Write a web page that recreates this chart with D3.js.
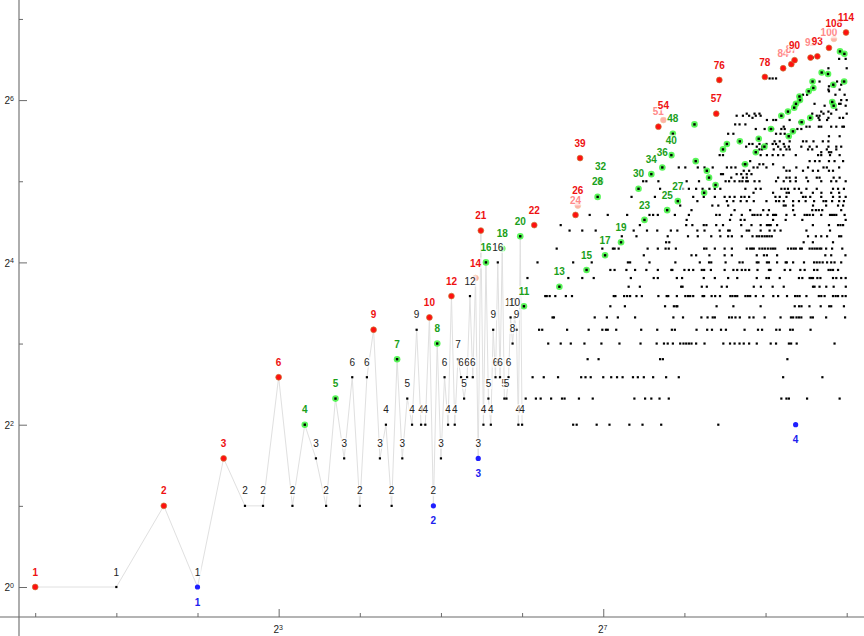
<!DOCTYPE html>
<html><head><meta charset="utf-8">
<script src="https://cdn.jsdelivr.net/npm/d3@7"></script>
<style>body{margin:0;background:#fff}svg{display:block}</style>
</head><body><svg id="chart" width="864" height="636"></svg>
<script>
// a(n) for n = 1..64 (joined by the gray line, every point labelled)
const headValues = [1,1,2,1,3,2,2,6,2,4,3,2,5,3,6,2,6,9,3,4,2,7,3,5,4,9,4,4,10,2,8,3,6,4,12,4,7,6,5,6,12,6,14,3,21,4,16,5,4,9,6,16,6,18,5,5,6,10,8,10,9,4,20,4];

// record values (red)
const recordN = [1,3,5,8,18,29,35,43,45,71,101,103,105,205,214,336,345,509,595,638,656,752,797,880,918,1018];
const recordV = [1,2,3,6,9,10,12,14,21,22,24,26,39,51,54,57,76,78,84,87,90,92,93,100,108,114];

// highlighted (green) points with a label
const greenN = [10,13,22,31,47,54,63,65,88,111,122,125,130,149,173,182,193,212,221,229,232,242];
const greenV = [4,5,7,8,16,18,20,11,13,15,28,32,17,19,30,23,34,36,25,40,48,27];
// highlighted (green) points without a label
const greenPlainN = [279,282,303,310,316,334,356,368,411,430,471,483,507,536,586,620,624,647,654,664,684,687,697,740,750,765,770,827,873,905,913,916,967,1002,1004];
const greenPlainV = [52,38,29,35,33,31,42,44,45,37,41,46,43,50,56,58,47,49,60,62,66,64,53,69,55,75,71,81,80,63,73,61,97,75,95];

// low values (blue)
const lowN = [4,30,44,662];
const lowV = [1,2,3,4];

// remaining points for n > 64, grouped by value
const cloudValues = [4,5,6,7,8,9,10,11,12,13,14,15,16,17,18,19,20,21,22,23,24,25,26,27,28,29,30,32,33,34,35,36,37,38,40,41,42,43,44,45,47,48,50,51,52,53,54,55,56,57,58,59,61,62,64,67,69,70,72,73,75,77,84,91,92];
const cloudN = [
 [99,102,121,135,160,179,210,342],
 [66,72,75,82,90,92,104,117,167,183,193,207,224,586,612,625,730,964],
 [70,77,87,106,110,115,128,137,144,151,165,172,181,196,219,244,595,832],
 [112,123,208,213,617],
 [80,89,97,109,126,147,176,202,215,222,232,247,254,260,266,272,283,304,357,378,393,410,425,445,475,535,560,625,637,668,923],
 [74,76,94,113,127,131,133,143,177,203,230,236,284,311,324,350,365,428,480,497,561,578,632,646,752],
 [83,84,119,132,145,168,233,253,296,312,326,332,375,384,396,411,446,462,508,582,636,648,667,681,695,753,767,859,1010],
 [136,154,217,234,239,241,337,389,491,657,682,696,745,820,882,897,1000],
 [78,79,81,85,93,98,140,142,153,157,161,170,178,205,220,223,240,258,264,269,276,299,303,323,333,347,379,386,395,402,431,440,449,471,502,547,570,615,659,672,685,726,807,824,848,911,932,951,987,1015],
 [159,175,249,252,297,310,352,368,463,492,544,598,768,778,812,860,916,1016],
 [67,95,107,118,162,197,204,240,251,302,332,372,402,475,516,527,578,681,701,746,757,768,797,818,911,937,977,1015],
 [136,141,156,168,185,204,229,231,256,266,276,297,303,321,361,389,402,418,431,445,478,527,534,603,632,689,715,775,797,877,893,911,951],
 [73,99,116,158,161,190,237,292,316,322,364,410,421,475,482,518,527,565,608,614,648,711,775,793,812,834,866,897,923,977],
 [181,272,283,317,361,384,475,505,518,565,853,897,1013],
 [86,127,139,141,146,187,204,218,224,238,303,309,332,361,384,436,449,456,463,486,498,509,522,535,546,556,620,637,651,663,688,698,746,763,779,795,812,824,859,904,986],
 [219,225,709,767,911],
 [150,170,222,264,287,322,348,372,384,418,458,475,485,497,508,518,529,540,736,787,824,866,960,977],
 [96,107,120,166,186,203,228,241,286,304,346,372,377,436,445,491,530,553,582,726,888],
 [89,175,260,274,302,309,336,356,416,454,491,518,527,535,565,767,880,951,971,993],
 [261,378,414,428,546,608,701,1015],
 [114,133,157,190,196,204,236,266,336,346,382,418,458,466,478,491,521,546,553,560,612,656,715,730,746,768,824,888,904,920,937,1006],
 [272,393,449,502,527,648,763,787,807,831,977],
 [247,325,342,372,598,608,648,768,859,951,993],
 [286,368,389,414,436,463,516,560,575,598,648,681,721,775,840,859,904,960,1000],
 [163,199,276,302,332,361,377,393,416,428,445,557,578,612,705,721,750,824,911,964,1015],
 [462,546,613,625,695,767,825,897,960],
 [208,253,266,283,299,317,332,348,431,471,491,586,603,620,656,681,726,793,911,951,1000],
 [180,185,205,261,290,364,375,393,410,420,434,440,466,486,560,598,632,663,736,824,897,937,1015],
 [382,422,436,570,612,629,663,726,793,812,916,964],
 [350,356,400,416,436,454],
 [425,445,612,629,705,767,802,880,911],
 [244,258,287,304,326,368,382,396,462,478,516,598,666,736,840,864,960],
 [422,436,486,502,546],
 [449,746,781,812,880,923,993],
 [346,356,491,518,544,570,596,663,802,824,888,964],
 [824,880,897],
 [486,497,549,582,612,629,736,763,864,937],
 [434,475,497,570,603,625,695,746,793,876,937,977],
 [445,458,486,516,544,560,598],
 [553,578,629,705,726,771,835,876],
 [880,964],
 [372,389,560,582,603],
 [471,508,546,586,603,672,695],
 [598,726,746,807,824,897,937,987,1000],
 [395,410,431],
 [685],
 [518,547,560,629,812,866],
 [458,805,876,964,993],
 [400,422,445,471,491,793,812],
 [436,466,486,763,840,897,1024],
 [824,876],
 [937],
 [848,1015],
 [778,960,972],
 [977,1024],
 [705,730,930,1006],
 [880],
 [876,964],
 [880,920],
 [977],
 [812,943,984],
 [530,544,560],
 [876,1024],
 [960,1015],
 [767]
];

// axis ticks
const xMajorTicks = [8,128];
const xMinorTicks = [1,2,4,16,32,64,256,512,1024];
const yMajorTicks = [1,4,16,64];
const yMinorTicks = [2,8,32,128];

const svg = d3.select("#chart");
const FONT = "'Liberation Sans', Arial, Helvetica, sans-serif";
const x = d3.scaleLog().base(2).domain([1,1024]).range([35.2,846.7]);
const y = d3.scaleLog().base(2).domain([1,64]).range([587,100.1]);
const AX_X = 19, AX_Y = 617;

// axes lines
svg.append("line").attr("x1",0).attr("x2",864).attr("y1",AX_Y).attr("y2",AX_Y).attr("stroke","#6b6b6b").attr("stroke-width",1.1);
svg.append("line").attr("x1",AX_X).attr("x2",AX_X).attr("y1",0).attr("y2",636).attr("stroke","#6b6b6b").attr("stroke-width",1.1);

function supLabels(sel){
  sel.selectAll(".tick text").each(function(d){
    const t = d3.select(this);
    t.text("2").attr("font-family",FONT).attr("font-size","10px").attr("fill","#222");
    t.append("tspan").attr("dy","-0.5em").attr("font-size","7px").text(Math.round(Math.log2(d)));
  });
}
function styleAxis(g){
  g.select(".domain").remove();
  g.selectAll(".tick line").attr("stroke","#6b6b6b").attr("stroke-width",1);
}
const gxMin = svg.append("g").attr("transform",`translate(0,${AX_Y})`)
  .call(d3.axisBottom(x).tickValues(xMinorTicks).tickSize(-4).tickFormat(""));
styleAxis(gxMin);
const gxMaj = svg.append("g").attr("transform",`translate(0,${AX_Y})`)
  .call(d3.axisBottom(x).tickValues(xMajorTicks).tickSize(-8).tickPadding(9));
styleAxis(gxMaj); supLabels(gxMaj);
gxMaj.selectAll(".tick text").attr("dx","-1px");

const gyMin = svg.append("g").attr("transform",`translate(${AX_X},0)`)
  .call(d3.axisLeft(y).tickValues(yMinorTicks).tickSize(-4).tickFormat(""));
styleAxis(gyMin);
const gyMaj = svg.append("g").attr("transform",`translate(${AX_X},0)`)
  .call(d3.axisLeft(y).tickValues(yMajorTicks).tickSize(-8).tickPadding(5));
styleAxis(gyMaj); supLabels(gyMaj);
gyMaj.selectAll(".tick text").attr("dy","0.38em");

// build point list
const key = (n,v)=> n+":"+v;
const recSet = new Set(recordN.map((n,i)=>key(n,recordV[i])));
const greenSet = new Set(greenN.map((n,i)=>key(n,greenV[i])));
const greenPlainSet = new Set(greenPlainN.map((n,i)=>key(n,greenPlainV[i])));
const lowSet = new Set(lowN.map((n,i)=>key(n,lowV[i])));

const head = headValues.map((v,i)=>({n:i+1,v}));
const cloud = [];
cloudValues.forEach((v,j)=>cloudN[j].forEach(n=>cloud.push({n,v})));
const black = head.concat(cloud).filter(p=>{const k=key(p.n,p.v);return !recSet.has(k)&&!greenSet.has(k)&&!lowSet.has(k)&&!greenPlainSet.has(k);});
const reds = recordN.map((n,i)=>({n,v:recordV[i]}));
const greens = greenN.map((n,i)=>({n,v:greenV[i]})).concat(greenPlainN.map((n,i)=>({n,v:greenPlainV[i]})));
const lows = lowN.map((n,i)=>({n,v:lowV[i]}));

// gray line through first 64 points
svg.append("path").datum(head)
  .attr("d", d3.line().x(d=>x(d.n)).y(d=>y(d.v)))
  .attr("fill","none").attr("stroke","#e0e0e0").attr("stroke-width",1);

// black points
svg.append("g").selectAll("rect").data(black).join("rect")
  .attr("x",d=>x(d.n)-1.1).attr("y",d=>y(d.v)-1.1).attr("width",2.2).attr("height",2.2).attr("fill","#000");
// blue points
svg.append("g").selectAll("circle").data(lows).join("circle")
  .attr("cx",d=>x(d.n)).attr("cy",d=>y(d.v)).attr("r",2.6).attr("fill","#1f1fff");
// green points
const gG = svg.append("g");
gG.selectAll("circle").data(greens).join("circle")
  .attr("cx",d=>x(d.n)).attr("cy",d=>y(d.v)).attr("r",3.3).attr("fill","#3cf53c").attr("opacity",0.85);
gG.selectAll("rect").data(greens).join("rect")
  .attr("x",d=>x(d.n)-1.2).attr("y",d=>y(d.v)-1.2).attr("width",2.4).attr("height",2.4).attr("fill","#000");
// red points
const fadedPoints = new Set([14,26,54,108]);
svg.append("g").selectAll("circle").data(reds).join("circle")
  .attr("cx",d=>x(d.n)).attr("cy",d=>y(d.v)).attr("r",2.9)
  .attr("fill",d=>fadedPoints.has(d.v)?"#ffb0a8":"#ff1010")
  .attr("stroke",d=>fadedPoints.has(d.v)?"#f0c8a0":"#c77a35").attr("stroke-width",0.7);

// labels
const fadedLabels = new Set([24,51,84,87,92,100]);
const labels = [];
head.forEach(p=>{
  const k=key(p.n,p.v);
  if(!recSet.has(k)&&!greenSet.has(k)) labels.push({n:p.n,v:p.v,color:"#222",bold:false,below:false});
});
reds.forEach(p=>labels.push({n:p.n,v:p.v,color:fadedLabels.has(p.v)?"#ff8a8a":"#ee1111",bold:true,below:false}));
greenN.forEach((n,i)=>labels.push({n,v:greenV[i],color:"#1aa01a",bold:true,below:false}));
lows.forEach(p=>labels.push({n:p.n,v:p.v,color:"#2020ee",bold:true,below:true}));
labels.sort((a,b)=>a.n-b.n);

const gL = svg.append("g").attr("font-family",FONT).attr("font-size","10px");
labels.forEach(l=>{
  const cx = x(l.n), cy = y(l.v) + (l.below?15:-15);
  const s = String(l.v);
  const w = s.length*5.6+2;
  gL.append("rect").attr("x",cx-w/2).attr("y",cy-5.5).attr("width",w).attr("height",11)
    .attr("fill","#fff").attr("opacity",0.65);
  gL.append("text").attr("x",cx).attr("y",cy+3.6).attr("text-anchor","middle")
    .attr("fill",l.color).attr("font-weight",l.bold?"bold":"normal").text(s);
});
</script></body></html>
